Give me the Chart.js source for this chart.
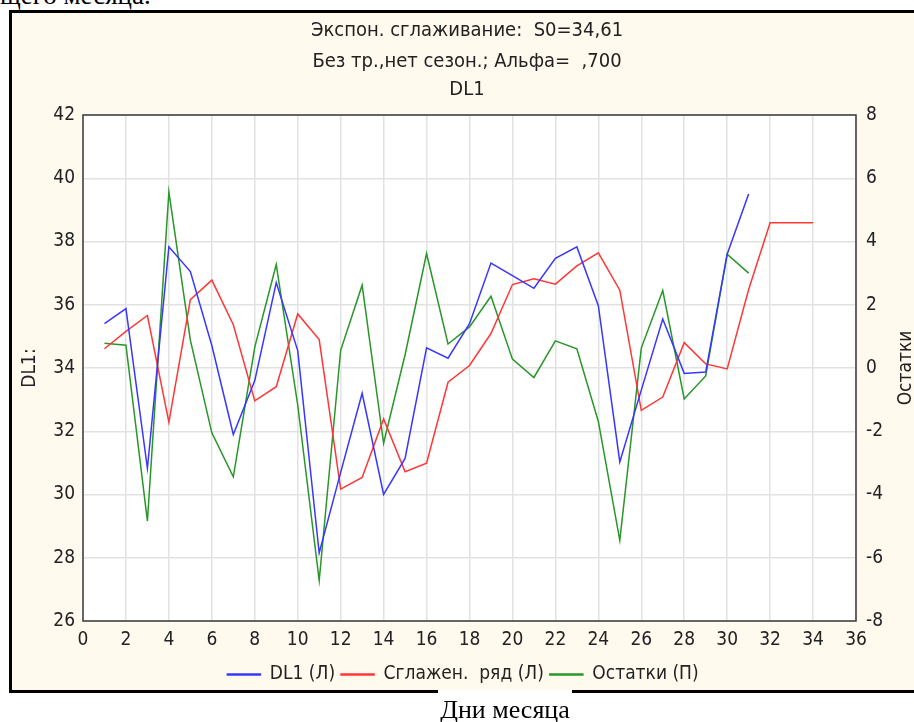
<!DOCTYPE html>
<html>
<head>
<meta charset="utf-8">
<script src="https://cdn.jsdelivr.net/npm/chart.js@4"></script>
<style>
  html, body { margin: 0; padding: 0; background: #fff; width: 914px; height: 722px; overflow: hidden; }
  .top-cut { position: absolute; left: 0; top: -20px; font: 27px "Liberation Serif", "DejaVu Serif", serif; color: #000; }
  .box { position: absolute; left: 9px; top: 10px; width: 920px; height: 677px; border: 3px solid #000; background: #fff9ee; }
  .box canvas { position: absolute; left: 0; top: 0; }
  .caption { position: absolute; left: 438px; top: 690px; width: 134px; height: 32px; background: #fff;
             font: 26px "Liberation Serif", "DejaVu Serif", serif; text-align: center; line-height: 40px; color: #000; }
</style>
</head>
<body>
<div class="top-cut">щего месяца.</div>
<div class="box"><canvas id="smoothChart" width="902" height="681"></canvas></div>
<div class="caption">Дни месяца</div>
<script>
const days = [1, 2, 3, 4, 5, 6, 7, 8, 9, 10, 11, 12, 13, 14, 15, 16, 17,
              18, 19, 20, 21, 22, 23, 24, 25, 26, 27, 28, 29, 30, 31, 32, 33, 34];
const dl1 = [35.40, 35.88, 30.83, 37.83, 37.05, 34.71, 31.90, 33.60, 36.70, 34.55, 28.15,
             30.70, 33.20, 30.00, 31.14, 34.64, 34.31, 35.40, 37.32, 36.92, 36.52, 37.47,
             37.83, 35.97, 31.03, 33.30, 35.55, 33.83, 33.87, 37.60, 39.50];
const smoothed = [34.61, 35.16, 35.66, 32.29, 36.16, 36.78, 35.37, 32.96, 33.41, 35.71, 34.90,
                  30.17, 30.54, 32.39, 30.72, 30.99, 33.55, 34.08, 35.09, 36.64, 36.82, 36.65,
                  37.23, 37.64, 36.46, 32.66, 33.08, 34.80, 34.13, 33.97, 36.48, 38.59, 38.59, 38.59];
const residuals = [0.78, 0.72, -4.84, 5.57, 0.88, -2.05, -3.44, 0.66, 3.27, -1.17, -6.72,
                   0.56, 2.62, -2.38, 0.42, 3.62, 0.76, 1.30, 2.27, 0.28, -0.30, 0.86,
                   0.61, -1.69, -5.45, 0.63, 2.45, -0.98, -0.25, 3.60, 3.00];
const seriesLabels = ['DL1 (Л)', 'Сглажен.  ряд (Л)', 'Остатки (П)'];
const titleLines = ['Экспон. сглаживание:  S0=34,61', 'Без тр.,нет сезон.; Альфа=  ,700', 'DL1'];
const leftTitle = 'DL1:';
const rightTitle = 'Остатки';

const narrow = '"Liberation Sans Narrow", "DejaVu Sans Condensed", "Arial Narrow", sans-serif';
const blue = 'rgb(55, 55, 255)';
const red = 'rgb(255, 55, 55)';
const green = 'rgb(40, 150, 40)';

const toPoints = (vals) => vals.map((v, i) => ({ x: days[i], y: v }));

// white plot area, dark frame, titles and axis captions
const framePlugin = {
    id: 'frame',
    beforeDraw(chart) {
        const a = chart.chartArea;
        const c = chart.ctx;
        c.save();
        c.fillStyle = '#ffffff';
        c.fillRect(a.left, a.top, a.right - a.left, a.bottom - a.top);
        c.restore();
    },
    afterDraw(chart) {
        const a = chart.chartArea;
        const c = chart.ctx;
        c.save();
        c.strokeStyle = '#3a3a3a';
        c.lineWidth = 1.5;
        c.strokeRect(a.left, a.top, a.right - a.left, a.bottom - a.top);

        c.fillStyle = '#222';
        c.font = '20px ' + narrow;
        c.textAlign = 'center';
        c.textBaseline = 'middle';
        const cx = 455;
        [18, 49, 77].forEach((y, i) => c.fillText(titleLines[i], cx, y));

        c.font = '19px ' + narrow;
        const midY = (a.top + a.bottom) / 2;
        c.translate(18, midY);
        c.rotate(-Math.PI / 2);
        c.fillText(leftTitle, 0, 0);
        c.setTransform(1, 0, 0, 1, 0, 0);
        c.translate(894, midY);
        c.rotate(-Math.PI / 2);
        c.fillText(rightTitle, 0, 0);
        c.restore();
    }
};

const ctx = document.getElementById('smoothChart');
new Chart(ctx.getContext('2d'), {
    type: 'line',
    data: {
        datasets: [{
            label: seriesLabels[0],
            data: toPoints(dl1),
            borderColor: blue,
            backgroundColor: blue,
            borderWidth: 1.5,
            pointRadius: 0,
            yAxisID: 'y'
        }, {
            label: seriesLabels[1],
            data: toPoints(smoothed),
            borderColor: red,
            backgroundColor: red,
            borderWidth: 1.5,
            pointRadius: 0,
            yAxisID: 'y'
        }, {
            label: seriesLabels[2],
            data: toPoints(residuals),
            borderColor: green,
            backgroundColor: green,
            borderWidth: 1.5,
            pointRadius: 0,
            yAxisID: 'y1'
        }]
    },
    options: {
        responsive: false,
        animation: false,
        devicePixelRatio: 1,
        layout: { padding: { top: 102, left: 0, right: 0, bottom: 0 } },
        plugins: {
            tooltip: { enabled: false },
            title: { display: false },
            legend: {
                position: 'bottom',
                labels: {
                    font: { family: narrow, size: 19 },
                    color: '#222',
                    boxWidth: 33,
                    boxHeight: 1,
                    padding: 6
                }
            }
        },
        scales: {
            x: {
                type: 'linear',
                min: 0,
                max: 36,
                ticks: { stepSize: 2, font: { family: narrow, size: 19 }, color: '#222', padding: 8 },
                grid: { color: '#e2e2e2', lineWidth: 1.5, drawTicks: false },
                border: { display: false },
                afterFit: (s) => { s.height = 38; }
            },
            y: {
                position: 'left',
                min: 26,
                max: 42,
                ticks: { stepSize: 2, font: { family: narrow, size: 19 }, color: '#222', padding: 8 },
                grid: { color: '#e2e2e2', lineWidth: 1.5, drawTicks: false },
                border: { display: false },
                afterFit: (s) => { s.width = 71; }
            },
            y1: {
                position: 'right',
                min: -8,
                max: 8,
                ticks: { stepSize: 2, font: { family: narrow, size: 19 }, color: '#222', padding: 10 },
                grid: { display: false, drawTicks: false },
                border: { display: false },
                afterFit: (s) => { s.width = 58; }
            }
        }
    },
    plugins: [framePlugin]
});
</script>
</body>
</html>
